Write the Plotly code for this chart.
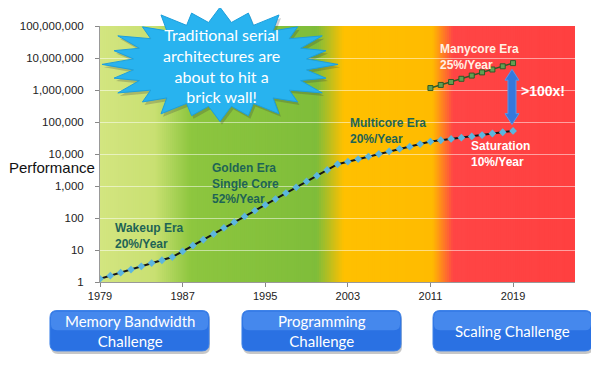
import math
import plotly.graph_objects as go

# ---------------- data ----------------
years = list(range(1979, 2020))
perf = [1.26, 1.58, 1.95, 2.45, 3.09, 3.89, 4.79, 6.03,
        9.12, 13.8, 20.9, 31.6, 49.0, 74.1, 112, 170, 257, 389, 603, 912,
        1380, 2090, 3160, 4790,
        5750, 6920, 8320, 10000, 12000, 14500, 17000, 20400, 24500,
        26900, 29500, 32400, 35500, 38900, 43700, 47900, 52500]
many_years = list(range(2011, 2020))
many_perf = [1.15e6, 1.44e6, 1.78e6, 2.24e6, 2.82e6, 3.55e6, 4.37e6, 5.50e6, 6.92e6]
x_ticks = [1979, 1987, 1995, 2003, 2011, 2019]
y_ticks = [1, 10, 100, 1000, 10000, 100000, 1000000, 10000000, 100000000]
y_labels = ["1", "10", "100", "1,000", "10,000", "100,000", "1,000,000",
            "10,000,000", "100,000,000"]
era_labels = [
    ("Wakeup Era<br>20%/Year", 113, 235.5, "#1e6455"),
    ("Golden Era<br>Single Core<br>52%/Year", 210, 182, "#1e6455"),
    ("Multicore Era<br>20%/Year", 348, 128.5, "#1e6455"),
    ("Manycore Era<br>25%/Year", 438, 53, "#fff1e4"),
    ("Saturation<br>10%/Year", 469, 152.5, "#ffffff"),
]
challenges = [("Memory Bandwidth<br>Challenge", 50, 209),
              ("Programming<br>Challenge", 242, 401),
              ("Scaling Challenge", 433, 592)]

# ---------------- geometry helpers (page pixel -> paper) ----------------
OFF = 8  # page body margin
W, H = 599 - OFF, 367 - OFF
L, R, T, B = 100, 575, 22, 282   # plot area in page pixels
def xp(px):
    return (px - L) / (R - L)
def yp(py):
    return (B - py) / (B - T)

def hex2rgb(h):
    h = h.lstrip('#')
    return tuple(int(h[i:i + 2], 16) for i in (0, 2, 4))

stops = [(1979, "#d3e580"), (1984.3, "#c9e072"), (1987.8, "#8dc63f"),
         (2000.0, "#7fbd3a"), (2002.6, "#ffc000"), (2011.2, "#ffbb00"),
         (2013.2, "#ff4545"), (2025, "#ff4040")]
def color_at(x):
    for (a, ca), (b, cb) in zip(stops, stops[1:]):
        if a <= x <= b:
            t = (x - a) / (b - a)
            ra, rb = hex2rgb(ca), hex2rgb(cb)
            return "rgb(%d,%d,%d)" % tuple(round(ra[i] + (rb[i] - ra[i]) * t) for i in range(3))
    return stops[-1][1]

shapes = []
step = 0.2
n = int(round((2025 - 1979) / step))
for i in range(n):
    x0 = 1979 + i * step
    x1 = min(x0 + 2 * step, 2025)
    shapes.append(dict(type="rect", xref="x", yref="paper", x0=x0, x1=x1,
                       y0=0, y1=1, fillcolor=color_at(x0 + step / 2),
                       line=dict(width=0), layer="below"))

# starburst
cx, cy, rx, ry = 220, 61, 118, 58
npts = 24
pts = []
for k in range(npts * 2):
    ang = math.pi * k / npts - math.pi / 2
    if k % 2 == 0:
        f = 1.0 if (k // 2) % 2 == 0 else 0.93
    else:
        f = 0.74
    pts.append((cx + rx * f * math.cos(ang), cy + ry * f * math.sin(ang)))
def path_from(points):
    s = "M %.4f,%.4f " % (xp(points[0][0]), yp(points[0][1]))
    for p in points[1:]:
        s += "L %.4f,%.4f " % (xp(p[0]), yp(p[1]))
    return s + "Z"
shadow_pts = [(x + 2, y + 3) for x, y in pts]
shapes.append(dict(type="path", xref="paper", yref="paper", path=path_from(shadow_pts),
                   fillcolor="rgba(60,60,60,0.25)", line=dict(width=0), layer="above"))
shapes.append(dict(type="path", xref="paper", yref="paper", path=path_from(pts),
                   fillcolor="#28b3ef", line=dict(color="#1d9fdc", width=1), layer="above"))

# double arrow
ax = 512
arrow = [(ax, 66), (ax + 7, 77), (ax + 4, 77), (ax + 4, 111), (ax + 7, 111), (ax, 122),
         (ax - 7, 111), (ax - 4, 111), (ax - 4, 77), (ax - 7, 77)]
shapes.append(dict(type="path", xref="paper", yref="paper", path=path_from(arrow),
                   fillcolor="#3478dc", line=dict(color="#5a96ea", width=1), layer="above"))

# challenge buttons
def rounded(x0, y0, x1, y1, r):
    def P(x, y):
        return "%.4f,%.4f" % (xp(x), yp(y))
    return ("M " + P(x0 + r, y0) + " L " + P(x1 - r, y0) + " Q " + P(x1, y0) + " " + P(x1, y0 + r) +
            " L " + P(x1, y1 - r) + " Q " + P(x1, y1) + " " + P(x1 - r, y1) +
            " L " + P(x0 + r, y1) + " Q " + P(x0, y1) + " " + P(x0, y1 - r) +
            " L " + P(x0, y0 + r) + " Q " + P(x0, y0) + " " + P(x0 + r, y0) + " Z")
annotations = []
for text, x0, x1 in challenges:
    shapes.append(dict(type="path", xref="paper", yref="paper", path=rounded(x0 + 1, 313, x1 + 1, 355, 7),
                       fillcolor="rgba(0,0,0,0.22)", line=dict(width=0)))
    shapes.append(dict(type="path", xref="paper", yref="paper", path=rounded(x0, 311, x1, 352, 7),
                       fillcolor="#2a71e3", line=dict(color="#3b80e8", width=1)))
    shapes.append(dict(type="path", xref="paper", yref="paper", path=rounded(x0 + 1, 312, x1 - 1, 331, 6),
                       fillcolor="rgba(120,180,255,0.35)", line=dict(width=0)))
    annotations.append(dict(text=text, xref="paper", yref="paper", x=xp((x0 + x1) / 2), y=yp(331.5),
                            xanchor="center", yanchor="middle", showarrow=False,
                            font=dict(family="Lato", size=15, color="white")))

for text, lx, cyy, col in era_labels:
    annotations.append(dict(text=text, xref="paper", yref="paper", x=xp(lx), y=yp(cyy),
                            xanchor="left", yanchor="middle", align="left", showarrow=False,
                            font=dict(family="Arial", size=12, color=col, weight="bold")))
annotations.append(dict(text=">100x!", xref="paper", yref="paper", x=xp(543), y=yp(88),
                        xanchor="center", yanchor="middle", showarrow=False,
                        font=dict(family="Arial", size=14, color="white", weight="bold")))
annotations.append(dict(text="Traditional serial<br>architectures are<br>about to hit a<br>brick wall!",
                        xref="paper", yref="paper", x=xp(221), y=yp(62),
                        xanchor="center", yanchor="middle", showarrow=False,
                        font=dict(family="Lato", size=16, color="white")))
annotations.append(dict(text="Performance", xref="paper", yref="paper", x=xp(97), y=yp(166),
                        xanchor="right", yanchor="middle", showarrow=False,
                        font=dict(family="Arial", size=15, color="#111111")))

fig = go.Figure()
fig.add_trace(go.Scatter(x=years, y=perf, mode="lines+markers",
                         line=dict(color="#151515", width=2),
                         marker=dict(symbol="diamond", size=6, color="#5cb6de",
                                     line=dict(width=0)),
                         hoverinfo="x+y", showlegend=False))
fig.add_trace(go.Scatter(x=many_years, y=many_perf, mode="lines+markers",
                         line=dict(color="#2e5a28", width=1.5),
                         marker=dict(symbol="square", size=5, color="#62a052",
                                     line=dict(color="#2e5a28", width=1)),
                         hoverinfo="x+y", showlegend=False))

fig.update_layout(
    width=W, height=H,
    margin=dict(l=L - OFF, r=W - (R - OFF), t=T - OFF, b=H - (B - OFF), pad=0),
    paper_bgcolor="white", plot_bgcolor="rgba(0,0,0,0)",
    shapes=shapes, annotations=annotations, showlegend=False,
    xaxis=dict(range=[1979, 2025], tickvals=x_ticks, ticks="outside", ticklen=4,
               tickcolor="#888888", showline=True, linecolor="#999999", showgrid=False,
               zeroline=False, tickfont=dict(family="Arial", size=11, color="#222222")),
    yaxis=dict(type="log", range=[0, 8], tickvals=y_ticks, ticktext=y_labels,
               ticks="outside", ticklen=4, tickcolor="#888888", showline=True,
               linecolor="#999999", showgrid=True, gridcolor="rgba(255,255,255,0.5)",
               gridwidth=1, zeroline=False, ticklabelstandoff=9,
               tickfont=dict(family="Arial", size=11.5, color="#222222")),
)
fig.write_html("out.html")
